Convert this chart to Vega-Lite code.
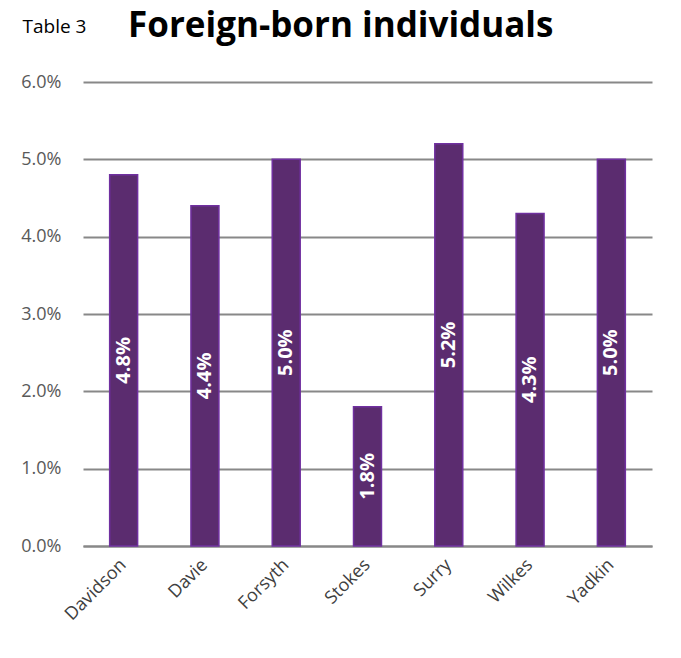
{
  "$schema": "https://vega.github.io/schema/vega-lite/v6.json",
  "width": 569,
  "height": 464,
  "autosize": {"type": "none"},
  "padding": {"left": 83, "top": 82, "right": 29, "bottom": 112},
  "background": "white",
  "title": {
    "text": "Foreign-born individuals",
    "anchor": "start",
    "frame": "group",
    "dx": 45,
    "dy": 55,
    "font": "Open Sans",
    "fontSize": 35,
    "fontWeight": "bold",
    "color": "#000000",
    "baseline": "alphabetic",
    "offset": 0
  },
  "config": {
    "view": {"stroke": null},
    "font": "Open Sans"
  },
  "data": {
    "values": [
      {"county": "Davidson", "value": 0.048},
      {"county": "Davie", "value": 0.044},
      {"county": "Forsyth", "value": 0.050},
      {"county": "Stokes", "value": 0.018},
      {"county": "Surry", "value": 0.052},
      {"county": "Wilkes", "value": 0.043},
      {"county": "Yadkin", "value": 0.050}
    ]
  },
  "transform": [{"calculate": "datum.value / 2", "as": "mid"}],
  "encoding": {
    "x": {
      "field": "county",
      "type": "nominal",
      "sort": null,
      "scale": {"paddingInner": 0.656, "paddingOuter": 0.328},
      "axis": {
        "title": null,
        "labelAngle": -45,
        "labelAlign": "right",
        "labelBaseline": "middle",
        "labelFontSize": 18,
        "labelColor": "#404040",
        "labelPadding": 16,
        "ticks": false,
        "domainColor": "#888888",
        "domainWidth": 2
      }
    }
  },
  "layer": [
    {
      "mark": {"type": "bar", "color": "#5B2C6F", "stroke": "#7030A0", "strokeWidth": 1.5},
      "encoding": {
        "y": {
          "field": "value",
          "type": "quantitative",
          "scale": {"domain": [0, 0.06], "nice": false},
          "axis": {
            "title": "Table 3",
            "titleAngle": 0,
            "titleAlign": "left",
            "titleBaseline": "middle",
            "titleX": -61,
            "titleY": -56,
            "titleFontSize": 19,
            "titleFontWeight": "normal",
            "titleColor": "#000000",
            "format": ".1%",
            "values": [0, 0.01, 0.02, 0.03, 0.04, 0.05, 0.06],
            "labelFontSize": 18,
            "labelColor": "#595959",
            "labelPadding": 22,
            "ticks": false,
            "domain": false,
            "gridColor": "#888888",
            "gridWidth": 2
          }
        }
      }
    },
    {
      "mark": {"type": "text", "angle": 270, "color": "white", "fontWeight": "bold", "fontSize": 20, "align": "center", "baseline": "middle"},
      "encoding": {
        "y": {"field": "mid", "type": "quantitative"},
        "text": {"field": "value", "type": "quantitative", "format": ".1%"}
      }
    }
  ]
}
